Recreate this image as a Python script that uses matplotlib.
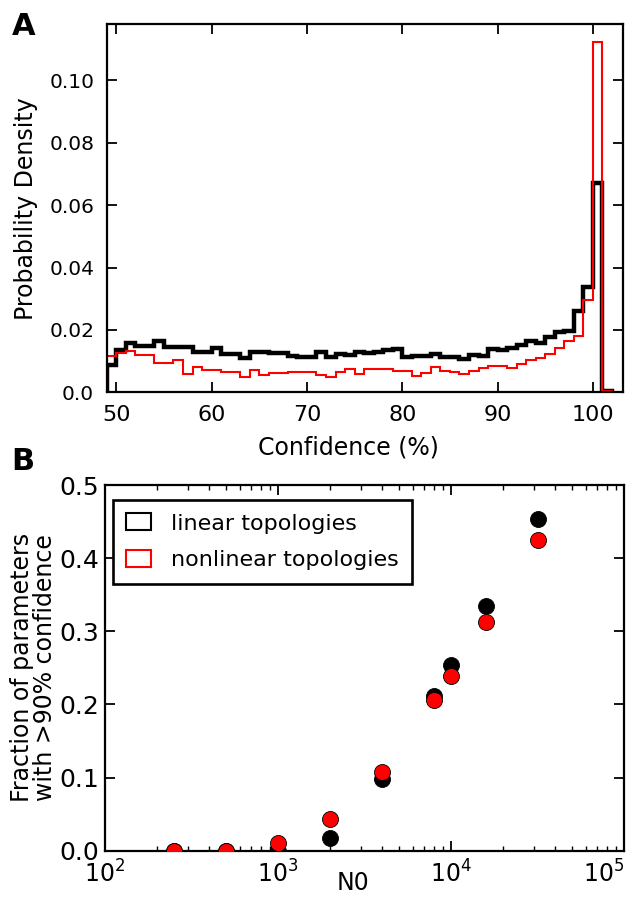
import numpy as np
import matplotlib
matplotlib.use("Agg")
import matplotlib.pyplot as plt
from matplotlib.patches import Patch
from matplotlib.ticker import FixedLocator, FixedFormatter, LogLocator, NullFormatter

plt.rcParams['font.family'] = ['DejaVu Sans']
plt.rcParams['mathtext.fontset'] = 'dejavusans'

# ---------------- Panel A data: histogram of confidence ----------------
bin_edges = list(range(49, 103))  # 49 .. 102 (53 bins)
linear_density = [
    0.0086, 0.0136, 0.0159, 0.0148, 0.0148, 0.0166, 0.0146, 0.0146, 0.0146, 0.0128,
    0.0128, 0.0141, 0.0123, 0.0123, 0.0109, 0.0128, 0.0128, 0.0125, 0.0125, 0.0117,
    0.0114, 0.0114, 0.0130, 0.0112, 0.0123, 0.0120, 0.0130, 0.0125, 0.0130, 0.0136,
    0.0139, 0.0112, 0.0117, 0.0117, 0.0123, 0.0114, 0.0114, 0.0106, 0.0120, 0.0117,
    0.0139, 0.0136, 0.0143, 0.0152, 0.0165, 0.0158, 0.0176, 0.0193, 0.0196, 0.0260,
    0.0339, 0.0671, 0.0003,
]
nonlinear_density = [
    0.0117, 0.0125, 0.0134, 0.0120, 0.0120, 0.0095, 0.0095, 0.0104, 0.0060, 0.0082,
    0.0072, 0.0072, 0.0066, 0.0066, 0.0048, 0.0072, 0.0055, 0.0061, 0.0061, 0.0066,
    0.0066, 0.0066, 0.0055, 0.0048, 0.0066, 0.0074, 0.0058, 0.0075, 0.0075, 0.0075,
    0.0068, 0.0069, 0.0052, 0.0063, 0.0080, 0.0068, 0.0064, 0.0058, 0.0068, 0.0077,
    0.0084, 0.0084, 0.0078, 0.0092, 0.0103, 0.0110, 0.0124, 0.0143, 0.0164, 0.0181,
    0.0296, 0.1122, 0.0003,
]
a_xticks = [50, 60, 70, 80, 90, 100]
a_yticks = [0.0, 0.02, 0.04, 0.06, 0.08, 0.10]
a_yticklabels = ["0.0", "0.02", "0.04", "0.06", "0.08", "0.10"]

# ---------------- Panel B data ----------------
n0 = [250, 500, 1000, 2000, 4000, 8000, 10000, 16000, 32000]
frac_linear = [0.0, 0.0, 0.0, 0.018, 0.098, 0.212, 0.254, 0.334, 0.454]
frac_nonlinear = [0.0, 0.0, 0.010, 0.043, 0.108, 0.206, 0.239, 0.313, 0.425]
b_xticks = [1e2, 1e3, 1e4, 1e5]
b_xticklabels = [r"$10^{2}$", r"$10^{3}$", r"$10^{4}$", r"$10^{5}$"]
b_yticks = [0.0, 0.1, 0.2, 0.3, 0.4, 0.5]
b_yticklabels = ["0.0", "0.1", "0.2", "0.3", "0.4", "0.5"]

fig = plt.figure(figsize=(6.37, 9.01), dpi=100)

# ---------------- Panel A ----------------
axA = fig.add_axes([0.1675, 0.5646, 0.8105, 0.4084])
axA.stairs(linear_density, bin_edges, color='black', linewidth=3.2, baseline=0)
axA.stairs(nonlinear_density, bin_edges, color='red', linewidth=1.5, baseline=0)
axA.set_xlim(49, 103.15)
axA.set_ylim(0, 0.118)
axA.xaxis.set_major_locator(FixedLocator(a_xticks))
axA.yaxis.set_major_locator(FixedLocator(a_yticks))
axA.yaxis.set_major_formatter(FixedFormatter(a_yticklabels))
axA.set_xlabel("Confidence (%)", fontsize=17, labelpad=8)
axA.xaxis.label.set_x(0.468)
axA.set_ylabel("Probability Density", fontsize=17, labelpad=8)
axA.tick_params(direction='in', top=True, right=True, length=7, width=1.3)
axA.tick_params(axis='x', labelsize=16, pad=9)
axA.tick_params(axis='y', labelsize=14.5, pad=9)
for s in axA.spines.values():
    s.set_linewidth(1.6)
fig.text(0.018, 0.961, "A", fontsize=22, fontweight='bold')

# ---------------- Panel B ----------------
axB = fig.add_axes([0.1648, 0.0558, 0.8148, 0.4059])
axB.plot(n0, frac_linear, 'o', color='black', markersize=11.5,
         markeredgecolor='black', markeredgewidth=0.6, zorder=3)
axB.plot(n0, frac_nonlinear, 'o', color='red', markersize=11.5,
         markeredgecolor='black', markeredgewidth=0.6, zorder=4)
axB.set_xscale('log')
axB.set_xlim(1e2, 1e5)
axB.set_ylim(0, 0.5)
axB.xaxis.set_major_locator(FixedLocator(b_xticks))
axB.xaxis.set_major_formatter(FixedFormatter(b_xticklabels))
axB.xaxis.set_minor_locator(LogLocator(base=10, subs=np.arange(2, 10), numticks=20))
axB.xaxis.set_minor_formatter(NullFormatter())
axB.yaxis.set_major_locator(FixedLocator(b_yticks))
axB.yaxis.set_major_formatter(FixedFormatter(b_yticklabels))
axB.set_xlabel("N0", fontsize=17, labelpad=-12)
axB.xaxis.label.set_x(0.478)
axB.set_ylabel("Fraction of parameters\nwith >90% confidence", fontsize=17,
               labelpad=2, linespacing=0.95)
axB.tick_params(which='major', direction='in', top=True, right=True, length=7,
                width=1.3, labelsize=17, pad=7)
axB.tick_params(axis='y', labelsize=18, pad=4)
axB.tick_params(which='minor', direction='in', top=True, right=True, length=3.5,
                width=1.0)
for s in axB.spines.values():
    s.set_linewidth(1.6)

handles = [Patch(facecolor='none', edgecolor='black', linewidth=1.5),
           Patch(facecolor='none', edgecolor='red', linewidth=1.5)]
leg = axB.legend(handles, ["linear topologies", "nonlinear topologies"],
                 loc='upper left', bbox_to_anchor=(0.0154, 0.959),
                 fontsize=16, frameon=True, fancybox=False,
                 edgecolor='black', framealpha=1, borderpad=0.6,
                 handlelength=1.1, handleheight=0.8, handletextpad=0.9,
                 borderaxespad=0.0, labelspacing=0.75)
leg.get_frame().set_linewidth(1.9)
fig.text(0.018, 0.478, "B", fontsize=22, fontweight='bold')

fig.canvas.draw()
axB.xaxis.get_major_ticks()[-1].label1.set_horizontalalignment('right')

fig.savefig("out.png", dpi=100)
